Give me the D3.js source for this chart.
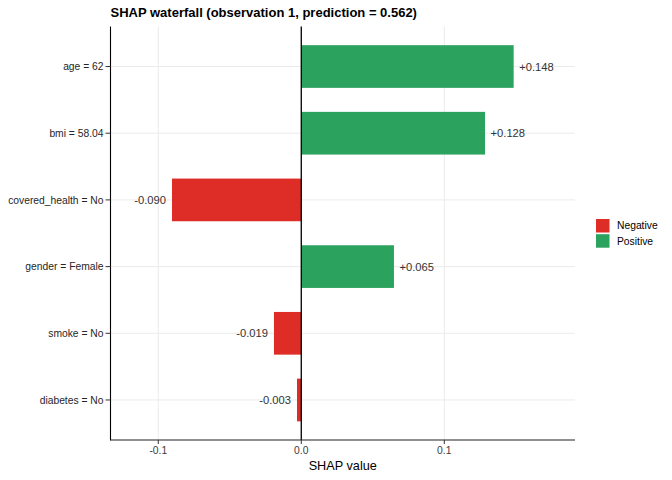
<!DOCTYPE html>
<html><head><meta charset="utf-8">
<script src="https://cdn.jsdelivr.net/npm/d3@7"></script>
<style>body{margin:0;background:#fff;} text{font-family:"Liberation Sans",Arial,sans-serif;}</style>
</head><body>
<svg id="c" width="672" height="480"></svg>
<script>
const features = ["age = 62","bmi = 58.04","covered_health = No","gender = Female","smoke = No","diabetes = No"];
const shapValues = [0.1485, 0.1285, -0.0904, 0.0648, -0.0191, -0.0030];
const valueLabels = ["+0.148","+0.128","-0.090","+0.065","-0.019","-0.003"];
const xTicks = [-0.1, 0.0, 0.1];
const xTickLabels = ["-0.1","0.0","0.1"];
const legendLabels = ["Negative","Positive"];
const colors = {Negative:"#de2d26", Positive:"#2ca25f"};

const svg = d3.select("#c");
const L = 110.5, R = 575, T = 26.5, B = 440;
const x = d3.scaleLinear().domain([-0.1334, 0.1914]).range([L, R]);
const y = d3.scaleBand().domain(features).range([T, B]).paddingOuter(0.6 - 0.5).paddingInner(0);
// scaleBand with outer expansion of 0.6 steps: center of each band
const step = (B - T) / (features.length - 1 + 1.2);
const yScale = d3.scalePoint().domain(features).range([T + 0.6*step, B - 0.6*step]);
const yc = d => yScale(d);
const barH = step * 0.64;

// grid
const g = svg.append("g");
g.selectAll(".vg").data(xTicks).enter().append("line")
  .attr("x1", d=>x(d)).attr("x2", d=>x(d)).attr("y1", T).attr("y2", B)
  .attr("stroke", "#ebebeb").attr("stroke-width", 1);
g.selectAll(".hg").data(features).enter().append("line")
  .attr("x1", L).attr("x2", R).attr("y1", d=>yc(d)).attr("y2", d=>yc(d))
  .attr("stroke", "#ebebeb").attr("stroke-width", 1);

// bars
const data = features.map((f,i)=>({f, v: shapValues[i], lab: valueLabels[i]}));
svg.selectAll(".bar").data(data).enter().append("rect")
  .attr("x", d=>Math.min(x(0), x(d.v))).attr("width", d=>Math.abs(x(d.v)-x(0)))
  .attr("y", d=>yc(d.f)-barH/2).attr("height", barH)
  .attr("fill", d=> d.v<0 ? colors.Negative : colors.Positive);

// zero line
svg.append("line").attr("x1", x(0)).attr("x2", x(0)).attr("y1", T).attr("y2", B)
  .attr("stroke", "#000").attr("stroke-width", 1.3);

// value labels
svg.selectAll(".vl").data(data).enter().append("text")
  .attr("x", d=> d.v<0 ? x(d.v)-6 : x(d.v)+5.5)
  .attr("y", d=>yc(d.f)).attr("dy","0.36em")
  .attr("text-anchor", d=> d.v<0 ? "end" : "start")
  .attr("font-size", 11.2).attr("fill", "#333333")
  .text(d=>d.lab);

// axes lines
svg.append("line").attr("x1", L).attr("x2", L).attr("y1", T).attr("y2", B+0.5)
  .attr("stroke", "#000").attr("stroke-width", 1.1);
svg.append("line").attr("x1", L).attr("x2", R).attr("y1", B).attr("y2", B)
  .attr("stroke", "#222").attr("stroke-width", 1.1);

// x ticks
svg.selectAll(".xt").data(xTicks).enter().append("line")
  .attr("x1", d=>x(d)).attr("x2", d=>x(d)).attr("y1", B).attr("y2", B+4)
  .attr("stroke", "#333").attr("stroke-width", 1);
svg.selectAll(".xl").data(xTicks).enter().append("text")
  .attr("x", d=>x(d)).attr("y", 454).attr("text-anchor","middle")
  .attr("font-size", 10.3).attr("fill","#3a3a3a")
  .text((d,i)=>xTickLabels[i]);

// y ticks
svg.selectAll(".yt").data(features).enter().append("line")
  .attr("x1", L-5).attr("x2", L).attr("y1", d=>yc(d)).attr("y2", d=>yc(d))
  .attr("stroke", "#333").attr("stroke-width", 1);
svg.selectAll(".yl").data(features).enter().append("text")
  .attr("x", L-7).attr("y", d=>yc(d)).attr("dy","0.36em").attr("text-anchor","end")
  .attr("font-size", 10.3).attr("fill","#262626")
  .text(d=>d);

// axis title
svg.append("text").attr("x", (L+R)/2).attr("y", 469.5).attr("text-anchor","middle")
  .attr("font-size", 12.7).attr("fill","#000").text("SHAP value");

// title
svg.append("text").attr("x", 110.5).attr("y", 16.7).attr("font-size", 13)
  .attr("font-weight","bold").attr("fill","#000")
  .text("SHAP waterfall (observation 1, prediction = 0.562)");

// legend
const lg = svg.append("g");
legendLabels.forEach((k,i)=>{
  lg.append("rect").attr("x", 596).attr("y", 219 + i*15.2).attr("width", 13.5).attr("height", 13.5)
    .attr("fill", colors[k]);
  lg.append("text").attr("x", 617).attr("y", 219 + i*15.2 + 6.75).attr("dy","0.36em")
    .attr("font-size", 10.3).attr("fill","#000").text(k);
});
</script>
</body></html>
